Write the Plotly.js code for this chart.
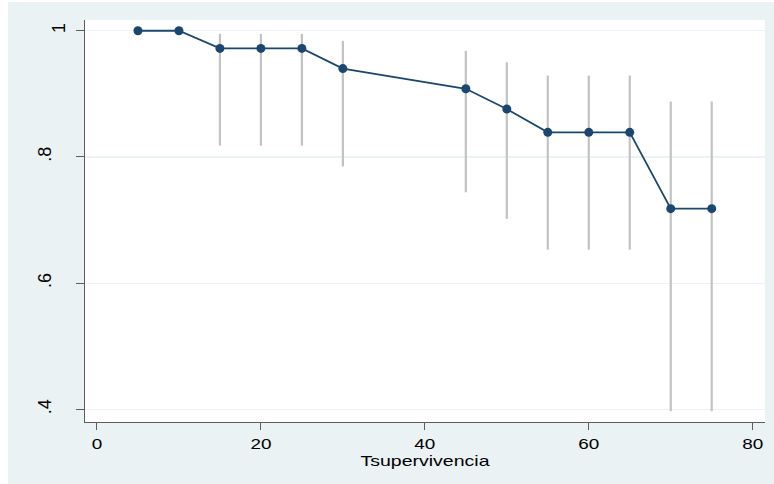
<!DOCTYPE html>
<html>
<head>
<meta charset="utf-8">
<script src="https://cdn.plot.ly/plotly-3.0.1.min.js"></script>
<style>
  html, body { margin: 0; padding: 0; background: #ffffff; width: 774px; height: 484px; overflow: hidden; }
  #chart { position: absolute; left: 8px; top: 2px; width: 766px; height: 482px; }
</style>
</head>
<body>
<div id="chart"></div>
<script>
// Kaplan-Meier style survival estimates with confidence intervals
const tiempo = [5, 10, 15, 20, 25, 30, 45, 50, 55, 60, 65, 70, 75];
const supervivencia = [1, 1, 0.972, 0.972, 0.972, 0.940, 0.908, 0.876, 0.839, 0.839, 0.839, 0.718, 0.718];
const limiteInferior = [null, null, 0.818, 0.818, 0.818, 0.785, 0.744, 0.702, 0.653, 0.653, 0.653, 0.397, 0.397];
const limiteSuperior = [null, null, 0.995, 0.995, 0.995, 0.984, 0.968, 0.950, 0.929, 0.929, 0.929, 0.888, 0.888];
const xTicks = [0, 20, 40, 60, 80];
const xTickLabels = ['0', '20', '40', '60', '80'];
const yTicks = [0.4, 0.6, 0.8, 1];
const yTickLabels = ['.4', '.6', '.8', '1'];
const xTitle = 'Tsupervivencia';

// spikes for the confidence intervals (one segment per time point)
const spikeX = [], spikeY = [];
tiempo.forEach((t, i) => {
  if (limiteInferior[i] !== null && limiteSuperior[i] !== null) {
    spikeX.push(t, t, null);
    spikeY.push(limiteInferior[i], limiteSuperior[i], null);
  }
});

const navy = '#1A476F';
const bg = '#EAF2F3';
const axisCol = '#5C5C5C';

const traces = [
  {
    x: spikeX, y: spikeY, type: 'scatter', mode: 'lines',
    line: { color: '#C2C2C2', width: 2.2 },
    hoverinfo: 'skip', showlegend: false
  },
  {
    x: tiempo, y: supervivencia, type: 'scatter', mode: 'lines+markers',
    line: { color: navy, width: 1.8 },
    marker: { color: navy, size: 9, symbol: 'circle' },
    showlegend: false
  }
];

const layout = {
  width: 766, height: 482,
  paper_bgcolor: bg,
  plot_bgcolor: '#ffffff',
  margin: { l: 77, r: 9, t: 18, b: 62, pad: 0 },
  showlegend: false,
  font: { family: '"Liberation Sans", Arial, sans-serif', color: '#000000' },
  xaxis: {
    range: [-1.46, 81.5],
    tickmode: 'array', tickvals: xTicks, ticktext: xTickLabels,
    ticks: 'outside', ticklen: 7, tickwidth: 1, tickcolor: axisCol,
    showline: true, linecolor: axisCol, linewidth: 1,
    showgrid: false, zeroline: false,
    tickfont: { size: 14, color: '#000000' },
    ticklabelstandoff: 2,
    title: { text: xTitle, font: { size: 15, color: '#000000' }, standoff: 4 },
    automargin: false, fixedrange: true
  },
  yaxis: {
    range: [0.380, 1.017],
    tickmode: 'array', tickvals: yTicks, ticktext: yTickLabels,
    ticks: 'outside', ticklen: 8, tickwidth: 1, tickcolor: axisCol,
    tickangle: -90,
    showline: true, linecolor: axisCol, linewidth: 1,
    showgrid: true, gridcolor: bg, gridwidth: 1.2,
    zeroline: false,
    tickfont: { size: 18, color: '#000000' },
    ticklabelstandoff: 18,
    automargin: false, fixedrange: true
  }
};

Plotly.newPlot('chart', traces, layout, { displayModeBar: false, staticPlot: true }).then(() => {
  // horizontally widen the x-axis texts to mimic the stretched original rendering
  const stretch = (sel, f) => {
    document.querySelectorAll(sel).forEach(t => {
      const w = t.getComputedTextLength();
      if (w > 0) {
        t.setAttribute('textLength', (w * f).toFixed(2));
        t.setAttribute('lengthAdjust', 'spacingAndGlyphs');
      }
    });
  };
  stretch('.xtick text', 1.35);
  stretch('.g-xtitle text', 1.3);
  // the single-character "1" label sits closer to the axis in the original
  document.querySelectorAll('.ytick text').forEach(t => {
    if (t.textContent.trim() === '1') {
      const tr = t.getAttribute('transform') || '';
      t.setAttribute('transform', 'translate(14,0) ' + tr);
    }
  });
});
</script>
</body>
</html>
